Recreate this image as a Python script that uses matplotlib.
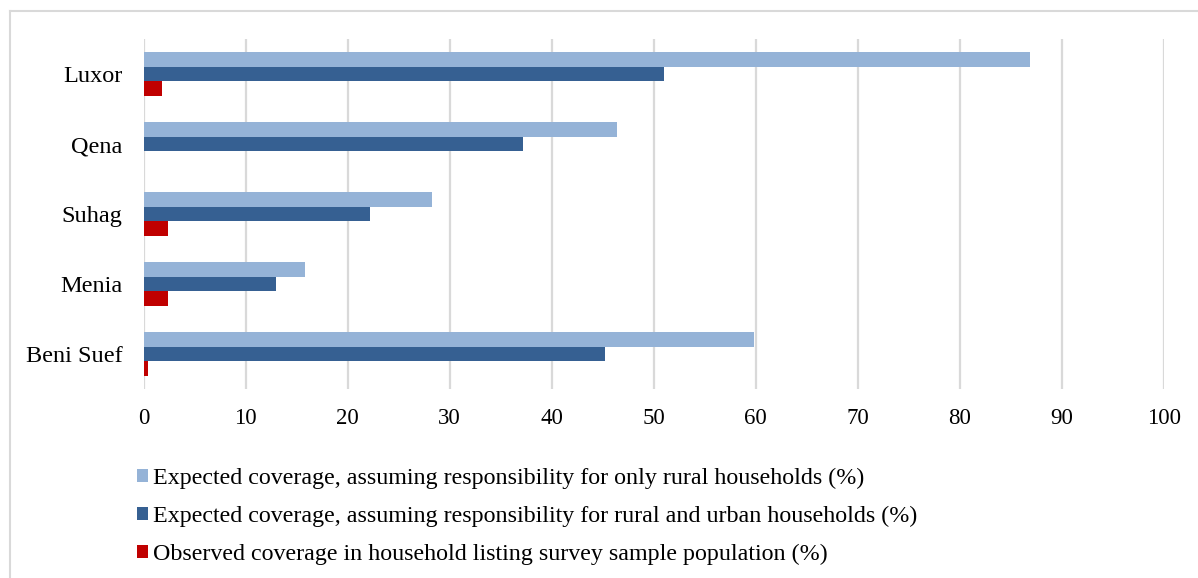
import numpy as np
import matplotlib
matplotlib.use("Agg")
import matplotlib.pyplot as plt
from matplotlib.lines import Line2D
from matplotlib.patches import Patch

plt.rcParams['font.family'] = ['Liberation Serif', 'DejaVu Serif']

# Governorates, listed top to bottom
governorates = ["Luxor", "Qena", "Suhag", "Menia", "Beni Suef"]

# Coverage values (%)
rural_only = [86.9, 46.4, 28.3, 15.8, 59.8]
rural_urban = [51.0, 37.2, 22.2, 13.0, 45.2]
observed = [1.8, 0.0, 2.4, 2.4, 0.4]

series_labels = [
    "Expected coverage, assuming responsibility for only rural households (%)",
    "Expected coverage, assuming responsibility for rural and urban households (%)",
    "Observed coverage in household listing survey sample population (%)",
]
x_ticks = list(range(0, 101, 10))

c_light = "#95B3D7"
c_dark = "#366092"
c_red = "#C00000"
grid_c = "#D9D9D9"

fig = plt.figure(figsize=(11.98, 5.78), dpi=100)
ax = fig.add_axes([143.5 / 1198, 1 - 389 / 578, (1164 - 143.5) / 1198, 350 / 578])

n = len(governorates)
ypos = np.arange(n)[::-1].astype(float)
h = 0.205

ax.barh(ypos + h, rural_only, height=h, color=c_light, zorder=3)
ax.barh(ypos, rural_urban, height=h, color=c_dark, zorder=3)
ax.barh(ypos - h, observed, height=h, color=c_red, zorder=3)

ax.set_xlim(0, 100)
ax.set_ylim(-0.5, n - 0.5)
ax.set_xticks(x_ticks)
ax.set_xticklabels([str(t) for t in x_ticks], fontsize=16.5)
ax.set_yticks(ypos)
ax.set_yticklabels(governorates, fontsize=17.5)
ax.tick_params(axis='both', length=0)
ax.tick_params(axis='x', pad=14)
ax.tick_params(axis='y', pad=15)

ax.xaxis.grid(True, color=grid_c, linewidth=1.6, zorder=0)
ax.yaxis.grid(False)
for s in ax.spines.values():
    s.set_visible(False)

handles = [Patch(facecolor=c, edgecolor='none') for c in (c_light, c_dark, c_red)]
fig.legend(handles, series_labels, loc='upper left',
           bbox_to_anchor=(137 / 1198, 1 - 468 / 578),
           frameon=False, fontsize=17.3,
           handlelength=0.46, handleheight=0.46, handletextpad=0.22,
           labelspacing=0.70, borderaxespad=0, borderpad=0)

# outer chart-area frame
fig.add_artist(Line2D([10 / 1198, 10 / 1198], [0, 1 - 11 / 578],
                      transform=fig.transFigure, color=grid_c, linewidth=1.5))
fig.add_artist(Line2D([10 / 1198, 1], [1 - 11 / 578, 1 - 11 / 578],
                      transform=fig.transFigure, color=grid_c, linewidth=1.5))

fig.savefig("out.png", dpi=100, facecolor="white")
